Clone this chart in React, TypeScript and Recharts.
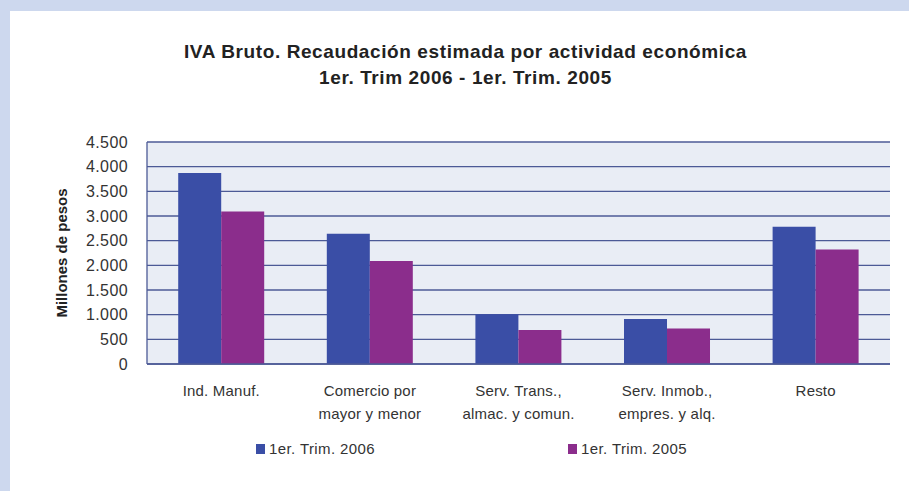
import React from "react";
import { BarChart, Bar, XAxis, YAxis, CartesianGrid } from "recharts";

const categories = [
  "Ind. Manuf.",
  "Comercio por|mayor y menor",
  "Serv. Trans.,|almac. y comun.",
  "Serv. Inmob.,|empres. y alq.",
  "Resto",
];
const trim2006 = [3870, 2640, 1010, 910, 2780];
const trim2005 = [3090, 2090, 690, 720, 2320];
const yTicks = [0, 500, 1000, 1500, 2000, 2500, 3000, 3500, 4000, 4500];
const seriesNames = ["1er. Trim. 2006", "1er. Trim. 2005"];

const data = categories.map((c, i) => ({ cat: c, a: trim2006[i], b: trim2005[i] }));

const BLUE = "#3a4ea6";
const PURPLE = "#8b2d8c";
const FONT = "'Liberation Sans', Arial, sans-serif";

const fmt = (v: number) => v.toLocaleString("de-DE");

function CatTick(props: any) {
  const { x, y, payload } = props;
  const lines = String(payload.value).split("|");
  return (
    <text x={x} y={y} textAnchor="middle" fill="#333" fontSize={15} fontFamily={FONT} letterSpacing={0.2}>
      {lines.map((l: string, i: number) => (
        <tspan key={i} x={x} dy={i === 0 ? 24 : 23}>
          {l}
        </tspan>
      ))}
    </text>
  );
}

function LegendBox() {
  const items = [
    { name: seriesNames[0], color: BLUE, left: 256 },
    { name: seriesNames[1], color: PURPLE, left: 568 },
  ];
  return (
    <div style={{ position: "absolute", left: 0, top: 440, width: 909, height: 20 }}>
      {items.map((it) => (
        <div
          key={it.name}
          style={{ position: "absolute", left: it.left, top: 0, display: "flex", alignItems: "center", fontFamily: FONT, fontSize: 15, letterSpacing: 0.4, color: "#333" }}
        >
          <span style={{ width: 9, height: 10, background: it.color, marginRight: 4, display: "inline-block" }} />
          {it.name}
        </div>
      ))}
    </div>
  );
}

export default function App() {
  return (
    <div style={{ position: "absolute", left: 0, top: 0, width: 909, height: 491, background: "#cdd8ee", overflow: "hidden" }}>
      <div style={{ position: "absolute", left: 10, top: 11, width: 899, height: 480, background: "#fff" }} />
      <div
        style={{
          position: "absolute",
          left: 0,
          top: 39,
          width: 909,
          textAlign: "center",
          fontFamily: FONT,
          fontWeight: "bold",
          fontSize: 19,
          letterSpacing: 0.6,
          lineHeight: "26px",
          color: "#222",
          paddingLeft: 22,
          boxSizing: "border-box",
        }}
      >
        IVA Bruto. Recaudación estimada por actividad económica
        <br />
        1er. Trim 2006 - 1er. Trim. 2005
      </div>
      <div style={{ position: "absolute", left: 0, top: 0 }}>
        <BarChart
          width={909}
          height={491}
          data={data}
          margin={{ top: 142, right: 19, bottom: 67, left: 87 }}
          barCategoryGap="21%"
          barGap={0}
        >
          <CartesianGrid horizontal vertical={false} fill="#e9edf5" stroke="#4c5a96" strokeWidth={1.3} />
          <XAxis
            dataKey="cat"
            height={60}
            tick={<CatTick />}
            tickLine={false}
            axisLine={{ stroke: "#4c5a96", strokeWidth: 1.3 }}
            interval={0}
          />
          <YAxis
            width={60}
            domain={[0, 4500]}
            ticks={yTicks}
            tickFormatter={fmt}
            tickLine={false}
            axisLine={{ stroke: "#4c5a96", strokeWidth: 1.3 }}
            tick={{ fill: "#333", fontSize: 16, fontFamily: FONT, letterSpacing: 0.4 }}
            tickMargin={13}
            label={{
              value: "Millones de pesos",
              angle: -90,
              position: "insideLeft",
              offset: 0,
              dx: -25,
              style: { textAnchor: "middle", fontWeight: "bold", fontSize: 15, fill: "#222", fontFamily: FONT },
            }}
          />
          <Bar dataKey="a" name={seriesNames[0]} fill={BLUE} isAnimationActive={false} />
          <Bar dataKey="b" name={seriesNames[1]} fill={PURPLE} isAnimationActive={false} />
        </BarChart>
      </div>
      <LegendBox />
    </div>
  );
}
